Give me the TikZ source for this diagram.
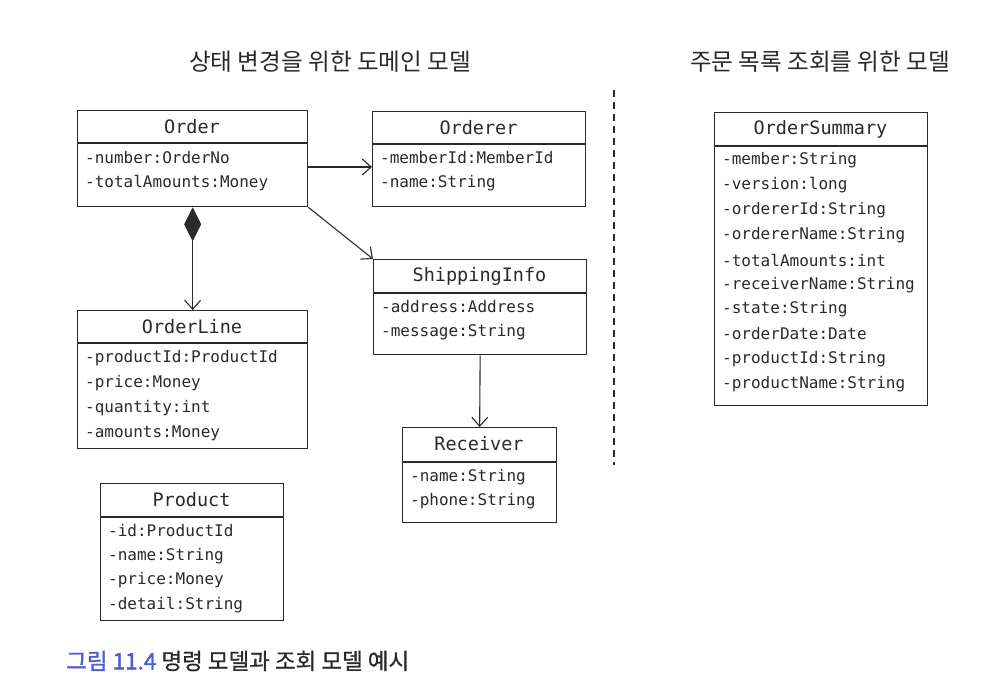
\documentclass[tikz,border=0pt]{standalone}
\usepackage{fontspec}
\setmainfont{DejaVu Sans}
\newfontfamily\krfont{Noto Sans CJK KR}
\newfontfamily\krcapfont{Noto Sans CJK KR}[FakeBold=0.6]
\newfontfamily\krcapbold{Noto Sans CJK KR}[FakeBold=1.6]
\newfontfamily\monofont{DejaVu Sans Mono}
\usetikzlibrary{arrows.meta}
\definecolor{ink}{HTML}{2A2A2A}
\definecolor{capblue}{HTML}{4A5BD4}
\tikzset{
  umlbox/.style={draw=ink, line width=1.3pt, inner sep=0pt, anchor=north west},
  divider/.style={draw=ink, line width=1.1pt},
  clsname/.style={font=\monofont\fontsize{18.5}{18.5}\selectfont, text=ink, anchor=center, inner sep=0pt},
  attr/.style={font=\monofont\fontsize{16}{16}\selectfont, text=ink, anchor=west, inner sep=0pt},
  assoc/.style={draw=ink, line width=1.1pt, -{Straight Barb[length=9pt,width=16pt,line width=1.1pt]}},
  comp/.style={draw=ink, line width=1.1pt, {Diamond[length=34pt,width=17pt,fill=ink]}-{Straight Barb[length=9pt,width=16pt,line width=1.1pt]}},
  heading/.style={font=\krfont\fontsize{23.6}{23.6}\selectfont, text=ink, inner sep=0pt},
}
\begin{document}
\begin{tikzpicture}[x=1pt,y=-1pt]
\fill[white] (0,0) rectangle (1006,698);
\useasboundingbox (0,0) rectangle (1006,698);

% headings
\node[heading] (h1) at (330,62) {상태 변경을 위한 도메인 모델};
\node[heading] (h2) at (820,62) {주문 목록 조회를 위한 모델};

% Order
\node[umlbox, minimum width=230pt, minimum height=96pt] (order) at (77,110) {};
\draw[divider] (order.west |- 0,143) -- (order.east |- 0,143);
\node[clsname] (orderN) at (192,127) {Order};
\node[attr] (orderA1) at (85,158) {-number:OrderNo};
\node[attr] (orderA2) at (85,183) {-totalAmounts:Money};

% Orderer
\node[umlbox, minimum width=213pt, minimum height=95pt] (orderer) at (372,111) {};
\draw[divider] (orderer.west |- 0,144) -- (orderer.east |- 0,144);
\node[clsname] (ordererN) at (478.5,128) {Orderer};
\node[attr] (ordererA1) at (380,158) {-memberId:MemberId};
\node[attr] (ordererA2) at (380,183) {-name:String};

% ShippingInfo
\node[umlbox, minimum width=213pt, minimum height=95pt] (ship) at (373,259) {};
\draw[divider] (ship.west |- 0,293) -- (ship.east |- 0,293);
\node[clsname] (shipN) at (479.5,276) {ShippingInfo};
\node[attr] (shipA1) at (381,307) {-address:Address};
\node[attr] (shipA2) at (381,332) {-message:String};

% OrderLine
\node[umlbox, minimum width=230pt, minimum height=138pt] (line) at (77,310) {};
\draw[divider] (line.west |- 0,343) -- (line.east |- 0,343);
\node[clsname] (lineN) at (192,327) {OrderLine};
\node[attr] (lineA1) at (85,358) {-productId:ProductId};
\node[attr] (lineA2) at (85,383) {-price:Money};
\node[attr] (lineA3) at (85,408) {-quantity:int};
\node[attr] (lineA4) at (85,433) {-amounts:Money};

% Receiver
\node[umlbox, minimum width=154pt, minimum height=95pt] (recv) at (402,427) {};
\draw[divider] (recv.west |- 0,462) -- (recv.east |- 0,462);
\node[clsname] (recvN) at (479,444) {Receiver};
\node[attr] (recvA1) at (410,477) {-name:String};
\node[attr] (recvA2) at (410,501) {-phone:String};

% Product
\node[umlbox, minimum width=183pt, minimum height=137pt] (prod) at (100,483) {};
\draw[divider] (prod.west |- 0,517) -- (prod.east |- 0,517);
\node[clsname] (prodN) at (191.5,500) {Product};
\node[attr] (prodA1) at (108,531) {-id:ProductId};
\node[attr] (prodA2) at (108,556) {-name:String};
\node[attr] (prodA3) at (108,580) {-price:Money};
\node[attr] (prodA4) at (108,605) {-detail:String};

% OrderSummary
\node[umlbox, minimum width=213pt, minimum height=293pt] (sum) at (714,112) {};
\draw[divider] (sum.west |- 0,146) -- (sum.east |- 0,146);
\node[clsname] (sumN) at (820.5,129) {OrderSummary};
\node[attr] (sumA1) at (722,160) {-member:String};
\node[attr] (sumA2) at (722,185) {-version:long};
\node[attr] (sumA3) at (722,210) {-ordererId:String};
\node[attr] (sumA4) at (722,235) {-ordererName:String};
\node[attr] (sumA5) at (722,260) {-totalAmounts:int};
\node[attr] (sumA6) at (722,285) {-receiverName:String};
\node[attr] (sumA7) at (722,309) {-state:String};
\node[attr] (sumA8) at (722,334) {-orderDate:Date};
\node[attr] (sumA9) at (722,359) {-productId:String};
\node[attr] (sumA10) at (722,384) {-productName:String};

% connectors
\draw[assoc] (order.east |- 0,167) -- (orderer.west |- 0,167);
\draw[assoc] (order.south east) -- (ship.north west);
\draw[comp] (order.south) -- (line.north);
\draw[assoc] (ship.south) -- (recv.north);

% separator
\coordinate (sepTop) at (614,90);
\coordinate (sepBot) at (614,465);
\draw[ink, line width=1.8pt, dash pattern=on 7pt off 5pt] (sepTop) -- (sepBot);

% caption
\node[anchor=west, font=\krcapfont\fontsize{22.5}{22.5}\selectfont, text=ink, inner sep=0pt] (cap) at (66,661) {{\krcapbold\color{capblue}그림 11.4} 명령 모델과 조회 모델 예시};
\end{tikzpicture}
\end{document}
